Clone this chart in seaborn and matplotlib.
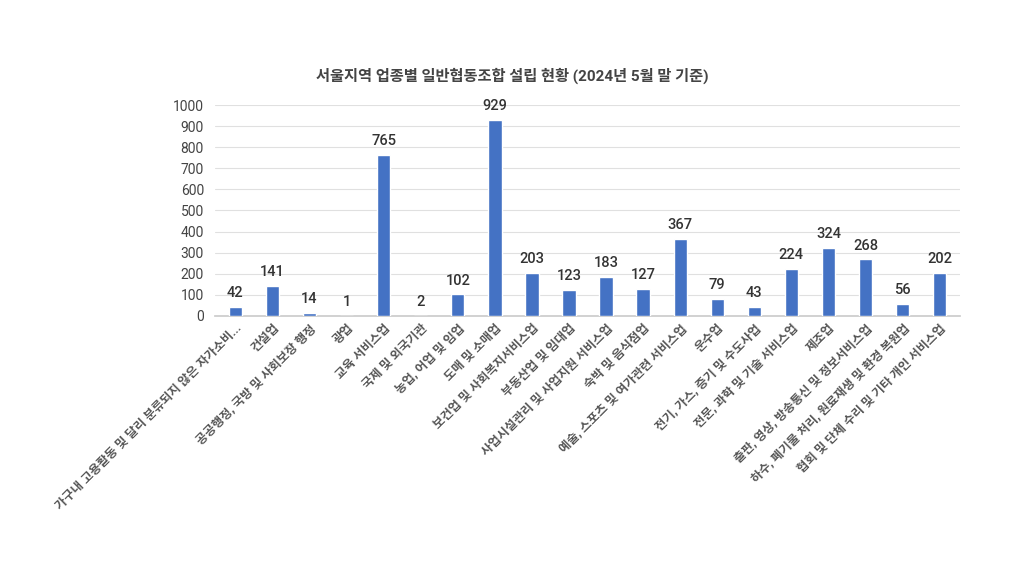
import matplotlib
matplotlib.use("Agg")
import matplotlib.pyplot as plt
import seaborn as sns
import pandas as pd

categories = [
    "가구내 고용활동 및 달리 분류되지 않은 자가소비...",
    "건설업",
    "공공행정, 국방 및 사회보장 행정",
    "광업",
    "교육 서비스업",
    "국제 및 외국기관",
    "농업, 어업 및 임업",
    "도매 및 소매업",
    "보건업 및 사회복지서비스업",
    "부동산업 및 임대업",
    "사업시설관리 및 사업지원 서비스업",
    "숙박 및 음식점업",
    "예술, 스포츠 및 여가관련 서비스업",
    "운수업",
    "전기, 가스, 증기 및 수도사업",
    "전문, 과학 및 기술 서비스업",
    "제조업",
    "출판, 영상, 방송통신 및 정보서비스업",
    "하수, 폐기물 처리, 원료재생 및 환경 복원업",
    "협회 및 단체 수리 및 기타 개인 서비스업",
]
values = [42, 141, 14, 1, 765, 2, 102, 929, 203, 123, 183, 127, 367, 79, 43, 224, 324, 268, 56, 202]
y_ticks = [0, 100, 200, 300, 400, 500, 600, 700, 800, 900, 1000]
title = "서울지역 업종별 일반협동조합 설립 현황 (2024년 5월 말 기준)"

sns.set_theme(style="white")
plt.rcParams['font.family'] = ['Roboto', 'Noto Sans CJK KR', 'DejaVu Sans']

df = pd.DataFrame({"category": categories, "value": values})

fig = plt.figure(figsize=(10.24, 5.76), dpi=100)
ax = fig.add_axes([0.21, 0.4514, 0.7275, 0.3663])

sns.barplot(data=df, x="category", y="value", color="#4472C4", width=0.36,
            saturation=1, ax=ax, zorder=3)

ax.set_ylim(0, 1000)
ax.set_yticks(y_ticks)
ax.set_yticklabels([str(t) for t in y_ticks], fontsize=10, color="#444444")
ax.grid(axis="y", color="#e0e0e0", linewidth=0.8, zorder=0)
ax.set_axisbelow(True)
for s in ax.spines.values():
    s.set_visible(False)
ax.spines["bottom"].set_visible(True)
ax.spines["bottom"].set_color("#cccccc")
ax.tick_params(axis="both", length=0, pad=8)
ax.set_xlim(-0.55, len(categories) - 0.45)

ax.set_xticks(range(len(categories)))
ax.set_xticklabels(categories, rotation=45, ha="right", rotation_mode="anchor",
                   fontsize=8.9, color="#555555", fontweight="bold")
ax.tick_params(axis="x", pad=4)
ax.set_xlabel("")
ax.set_ylabel("")

for c in ax.containers:
    ax.bar_label(c, labels=[str(v) for v in values], padding=5, fontsize=10.5,
                 color="#333333", fontweight="medium")

fig.text(0.5, 0.868, title, ha="center", va="center", fontsize=11,
         color="#444444", fontweight="bold")

fig.savefig("out.png", dpi=100, facecolor="white")
